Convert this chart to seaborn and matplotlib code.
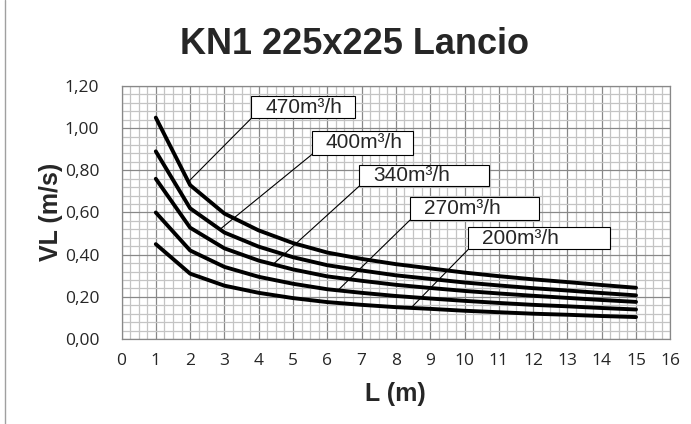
import numpy as np
import pandas as pd
import seaborn as sns
import matplotlib.pyplot as plt
from matplotlib.ticker import MultipleLocator, FuncFormatter
from matplotlib.patches import Rectangle
from matplotlib.lines import Line2D

# throw distance L (m)
L = list(range(1, 16))

# air velocity VL (m/s), one list per flow rate
vl_470 = [1.05, 0.73, 0.595, 0.515, 0.455, 0.41, 0.38, 0.355, 0.335, 0.315, 0.298, 0.283, 0.27, 0.256, 0.243]
vl_400 = [0.89, 0.62, 0.505, 0.438, 0.388, 0.35, 0.325, 0.302, 0.285, 0.268, 0.254, 0.241, 0.23, 0.218, 0.207]
vl_340 = [0.76, 0.528, 0.43, 0.372, 0.33, 0.297, 0.276, 0.257, 0.242, 0.228, 0.216, 0.205, 0.195, 0.185, 0.176]
vl_270 = [0.60, 0.42, 0.342, 0.295, 0.262, 0.236, 0.219, 0.204, 0.192, 0.181, 0.171, 0.162, 0.155, 0.147, 0.14]
vl_200 = [0.45, 0.31, 0.253, 0.219, 0.194, 0.175, 0.162, 0.151, 0.143, 0.134, 0.127, 0.12, 0.115, 0.109, 0.104]

labels = ['470m³/h', '400m³/h', '340m³/h', '270m³/h', '200m³/h']
series = [vl_470, vl_400, vl_340, vl_270, vl_200]

df = pd.concat([pd.DataFrame({'L': L, 'VL': v, 'flow': lab}) for lab, v in zip(labels, series)])

sns.set_style('white')
plt.rcParams['font.family'] = ['Liberation Sans', 'DejaVu Sans']

fig = plt.figure(figsize=(6.91, 4.24), dpi=100)
ax = fig.add_axes([121.5 / 691, 1 - 339 / 424, (670.3 - 121.5) / 691, (339 - 86) / 424])

sns.lineplot(data=df, x='L', y='VL', hue='flow', palette=['black'] * 5,
             linewidth=2.8, legend=False, ax=ax, zorder=3)

ax.set_xlim(0, 16)
ax.set_ylim(0, 1.2)
ax.xaxis.set_major_locator(MultipleLocator(1))
ax.xaxis.set_minor_locator(MultipleLocator(0.25))
ax.yaxis.set_major_locator(MultipleLocator(0.2))
ax.yaxis.set_minor_locator(MultipleLocator(0.04))
ax.yaxis.set_major_formatter(FuncFormatter(lambda v, p: f'{v:.2f}'.replace('.', ',')))
ax.set_axisbelow(True)
ax.grid(which='minor', color='#c4c4c4', linewidth=0.9)
ax.grid(which='major', color='#888888', linewidth=0.9)
ax.tick_params(which='both', length=0)
ax.tick_params(axis='y', pad=16, labelsize=12.5)
ax.tick_params(axis='x', pad=10, labelsize=12.5)
for t in ax.get_xticklabels() + ax.get_yticklabels():
    t.set_family(['Open Sans', 'DejaVu Sans'])
for s in ax.spines.values():
    s.set_color('#888888')
    s.set_linewidth(0.9)
ax.set_xlabel('')
ax.set_ylabel('')

# label boxes: (left, right, bottom, top) in data units, leader anchor L
boxes = [(3.78, 6.81, 1.046, 1.152, 1.95),
         (5.55, 8.50, 0.875, 0.986, 2.87),
         (6.93, 10.72, 0.725, 0.825, 4.42),
         (8.41, 12.18, 0.564, 0.674, 6.31),
         (10.11, 14.24, 0.425, 0.529, 8.44)]
for lab, v, (x0, x1, y0, y1, la) in zip(labels, series, boxes):
    ya = np.interp(la, L, v)
    ax.plot([x0, la], [y0, ya], color='black', linewidth=0.8, zorder=4)
    ax.add_patch(Rectangle((x0, y0), x1 - x0, y1 - y0, facecolor='white',
                           edgecolor='black', linewidth=0.8, zorder=5))
    ax.text(x0 + 0.41, (y0 + y1) / 2, lab, ha='left', va='center',
            fontsize=15, zorder=6)

fig.text(354 / 691, 1 - 45 / 424, 'KN1 225x225 Lancio', ha='center', va='center',
         fontsize=26, fontweight='bold')
fig.text(395 / 691, 1 - 394 / 424, 'L (m)', ha='center', va='center',
         fontsize=18, fontweight='bold')
fig.text(51 / 691, 1 - 212 / 424, 'VL (m/s)', ha='center', va='center',
         rotation=90, fontsize=18, fontweight='bold')

fig.add_artist(Line2D([5 / 691, 5 / 691], [0, 1], color='#a0a0a0', linewidth=1))

fig.savefig('out.png', dpi=100)
